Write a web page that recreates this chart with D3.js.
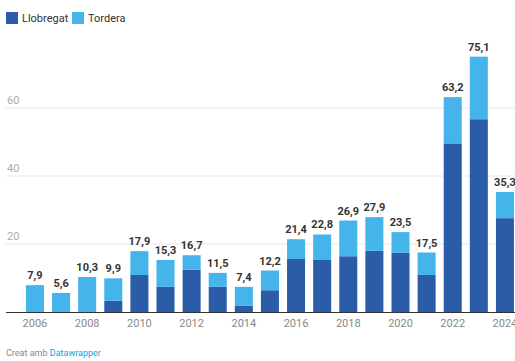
<!DOCTYPE html>
<html><head><meta charset="utf-8">
<script src="https://cdn.jsdelivr.net/npm/d3@7"></script>
<style>body{margin:0;background:#fff;font-family:Roboto,"Noto Sans",sans-serif;}svg{display:block}</style>
</head><body>
<svg id="c" width="515" height="361"></svg>
<script>
const years = ["2006","2007","2008","2009","2010","2011","2012","2013","2014","2015","2016","2017","2018","2019","2020","2021","2022","2023","2024"];
const llobregat = [0,0,0,3.3,10.9,7.4,12.4,7.4,1.9,6.4,15.6,15.3,16.4,18.0,17.4,10.9,49.6,56.7,27.6];
const totals = [7.9,5.6,10.3,9.9,17.9,15.3,16.7,11.5,7.4,12.2,21.4,22.8,26.9,27.9,23.5,17.5,63.2,75.1,35.3];
const tordera = totals.map((t,i)=>+(t-llobregat[i]).toFixed(1));
const yTicks = [20,40,60];
const xTickLabels = ["2006","2008","2010","2012","2014","2016","2018","2020","2022","2024"];
const seriesNames = ["Llobregat","Tordera"];
const colors = ["#2a5ca8","#45b4ea"];

const svg = d3.select("#c");
const y = d3.scaleLinear().domain([0,80]).range([312,40]);
const x = d3.scaleBand().domain(years).range([21.9,518]).paddingInner(0.31).paddingOuter(0.155);

// gridlines
svg.append("g").selectAll("line").data(yTicks).join("line")
  .attr("x1",6).attr("x2",515).attr("y1",d=>y(d)).attr("y2",d=>y(d))
  .attr("stroke","#e6e6e6").attr("stroke-width",1);
svg.append("g").selectAll("text").data(yTicks).join("text")
  .attr("x",7).attr("y",d=>y(d)-4).text(d=>d)
  .attr("font-size",11).attr("fill","#aaa");

const stackData = years.map((yr,i)=>({year:yr, Llobregat:llobregat[i], Tordera:tordera[i]}));
const stack = d3.stack().keys(seriesNames)(stackData);
svg.append("g").selectAll("g").data(stack).join("g").attr("fill",(d,i)=>colors[i])
  .selectAll("rect").data(d=>d).join("rect")
  .attr("x",d=>x(d.data.year)).attr("width",x.bandwidth())
  .attr("y",d=>y(d[1])).attr("height",d=>Math.max(0,y(d[0])-y(d[1])));

// value labels
svg.append("g").selectAll("text").data(years).join("text")
  .attr("x",d=>x(d)+x.bandwidth()/2).attr("y",(d,i)=>y(totals[i])-6)
  .attr("text-anchor","middle").attr("font-size",11).attr("font-weight","bold").attr("fill","#333")
  .text((d,i)=>String(totals[i]).replace(".",","));

// axis
svg.append("line").attr("x1",6).attr("x2",515).attr("y1",y(0)+0.5).attr("y2",y(0)+0.5).attr("stroke","#333").attr("stroke-width",1);
svg.append("g").selectAll("text").data(xTickLabels).join("text")
  .attr("x",d=>x(d)+x.bandwidth()/2).attr("y",327)
  .attr("text-anchor","middle").attr("font-size",11).attr("fill","#888").text(d=>d);

// legend
const lg = svg.append("g");
const lx = [6,72];
seriesNames.forEach((s,i)=>{
  lg.append("rect").attr("x",lx[i]).attr("y",12).attr("width",12).attr("height",12).attr("fill",colors[i]);
  lg.append("text").attr("x",lx[i]+16).attr("y",22).attr("font-size",11).attr("fill","#333").text(s);
});

// footer
const ft = svg.append("text").attr("x",6).attr("y",356).attr("font-size",9).attr("fill","#888");
ft.append("tspan").text("Creat amb ");
ft.append("tspan").attr("fill","#1d9be0").text("Datawrapper");
</script>
</body></html>
